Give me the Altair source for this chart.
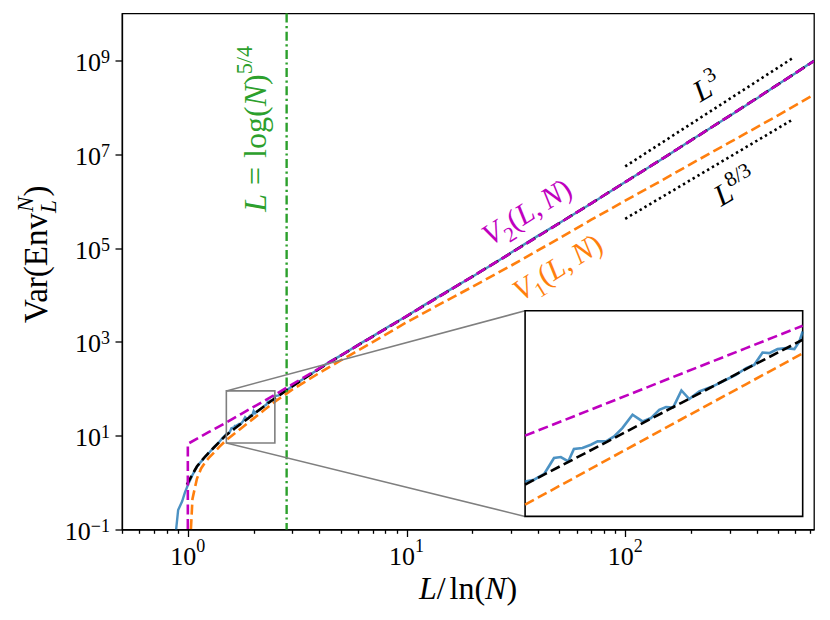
import math
import altair as alt
import pandas as pd

# ---------------- data ----------------
blue_x = [0.87, 0.884, 0.903, 0.942, 0.97, 1.01, 1.05, 1.103, 1.15, 1.205, 1.26, 1.32, 1.38, 1.44,
          1.5, 1.525, 1.554, 1.582, 1.602, 1.624, 1.641, 1.667, 1.693, 1.714, 1.741, 1.767, 1.794,
          1.828, 1.862, 1.891, 1.92, 1.944, 1.97, 2.0, 2.029, 2.067, 2.112, 2.145, 2.171, 2.211,
          2.253, 2.287, 2.322, 2.351, 2.387, 2.425, 2.462, 2.485, 2.5,
          2.6, 2.8, 3.0, 3.3, 3.6, 4.0, 4.5, 5.0, 6.0, 7.0, 8.5, 10, 12, 15, 20, 25, 30, 40, 50,
          70, 100, 150, 200, 300, 400, 500, 600, 730]
blue_y = [0.07, 0.1, 0.26, 0.4, 0.62, 0.98, 1.45, 2.2, 2.8, 3.6, 4.5, 5.8, 7.0, 8.9,
          10.81, 11.04, 11.89, 14.45, 14.64, 13.86, 16.16, 16.36, 17.05, 17.77, 17.77, 18.9, 20.97,
          24.74, 22.77, 23.75, 26.33, 27.22, 27.1, 33.45, 30.07, 33.04, 34.9, 36.67, 38.2, 40.6,
          44.2, 46.0, 53.6, 53.2, 55.9, 56.6, 55.9, 61.5, 69.6,
          72, 90, 113, 152, 197, 270, 388, 508, 862, 1310, 2290, 3500, 6000, 1.12e4, 2.45e4,
          4.62e4, 7.9e4, 1.84e5, 3.42e5, 8.9e5, 2.57e6, 8.3e6, 1.99e7, 6.5e7, 1.54e8, 3.1e8,
          5.3e8, 9.9e8]

fit_x = [0.99, 1.05, 1.1, 1.2, 1.3, 1.4, 1.5, 1.75, 2.0, 2.25, 2.5, 3, 4, 5, 7, 10, 15, 20, 30,
         50, 70, 100, 150, 200, 300, 500, 730]
fit_y = [0.9, 1.5, 2.2, 3.6, 5.27, 7.5, 10.4, 17.9, 28.7, 43.5, 62.8, 112, 268, 508, 1300, 3510,
         1.1e4, 2.47e4, 7.8e4, 3.39e5, 9.0e5, 2.55e6, 8.4e6, 1.97e7, 6.6e7, 3.08e8, 9.7e8]

v2_x = [1.0, 1.0, 1.25, 1.5, 1.75, 2.0, 2.25, 2.5, 3, 4, 5, 7, 10, 15, 20, 30, 50, 70, 100, 150,
        200, 300, 500, 730]
v2_y = [0.05, 6.7, 12.0, 19.1, 28.8, 41.2, 56.4, 74.7, 124, 275, 512, 1300, 3520, 1.1e4, 2.47e4,
        7.8e4, 3.39e5, 9.0e5, 2.55e6, 8.4e6, 1.97e7, 6.6e7, 3.08e8, 9.7e8]

v1_x = [1.025, 1.05, 1.1, 1.15, 1.2, 1.25, 1.3, 1.4, 1.5, 1.75, 2.0, 2.25, 2.5, 3, 4, 5, 7, 10,
        15, 20, 30, 50, 70, 100, 150, 200, 300, 500, 730]
v1_y = [0.05, 0.45, 1.2, 2.0, 2.7, 3.4, 4.1, 5.9, 8.1, 14.3, 23.4, 36.0, 53, 96, 218, 402, 986,
        2610, 7270, 1.49e4, 4.19e4, 1.62e5, 4.02e5, 1.02e6, 2.91e6, 6.23e6, 1.78e7, 6.74e7, 1.86e8]

l3_x = [100, 580]
l3_y = [5.5e6, 1.1e9]
l83_x = [100, 580]
l83_y = [4.2e5, 5.4e7]

green_x = [2.83]

x_tick_values = [0.5, 0.6, 0.7, 0.8, 0.9, 1, 2, 3, 4, 5, 6, 7, 8, 9, 10, 20, 30, 40, 50, 60, 70,
                 80, 90, 100, 200, 300, 400, 500, 600, 700]
x_label_values = [1, 10, 100]
x_label_exp = ["0", "1", "2"]
y_tick_values = [0.1, 10, 1e3, 1e5, 1e7, 1e9]
y_label_values = [10, 1e3, 1e5, 1e7, 1e9]
y_label_exp = ["1", "3", "5", "7", "9"]
y_label_neg_values = [0.1]
y_label_neg_exp = ["\u22121"]

# ---------------- layout ----------------
X_DOMAIN = [0.5, 730]
Y_DOMAIN = [0.1, 1e10]
W, H = 692, 516
ZOOM_X = [1.5, 2.5]
ZOOM_Y = [7.0, 90.0]
INSET_X = [34.85, 648.0]     # inset box in main-data units
INSET_Y = [0.19, 4600.0]

FONT = "Liberation Serif"
MAGENTA = "#bf00bf"
ORANGE = "#ff7f0e"
BLUE = "#1f77b4"
GREEN = "#2ca02c"
GRAY = "#7f7f7f"


def px_x(v):
    a, b = math.log10(X_DOMAIN[0]), math.log10(X_DOMAIN[1])
    return (math.log10(v) - a) / (b - a) * W


def px_y(v):
    a, b = math.log10(Y_DOMAIN[0]), math.log10(Y_DOMAIN[1])
    return (b - math.log10(v)) / (b - a) * H


xs = alt.Scale(type="log", domain=X_DOMAIN, nice=False)
ys = alt.Scale(type="log", domain=Y_DOMAIN, nice=False)
ixs = alt.Scale(type="log", domain=ZOOM_X, nice=False,
                range=[px_x(INSET_X[0]), px_x(INSET_X[1])])
iys = alt.Scale(type="log", domain=ZOOM_Y, nice=False,
                range=[px_y(INSET_Y[0]), px_y(INSET_Y[1])])

major = "datum.value == 1 || datum.value == 10 || datum.value == 100"
x_axis = alt.Axis(
    values=x_tick_values, labels=False,
    tickSize={"condition": {"test": major, "value": 7}, "value": 3.8},
    tickColor="black", tickWidth=1.3, domainColor="black", domainWidth=1.3,
    grid=False, title=None)
y_axis = alt.Axis(
    values=y_tick_values, labels=False, tickSize=7,
    tickColor="black", tickWidth=1.3, domainColor="black", domainWidth=1.3,
    grid=False, title=None)


def series(xv, yv):
    return pd.DataFrame({"x": xv, "y": yv, "i": list(range(len(xv)))})


def line(df, color, width, dash=None, opacity=1.0, inset=False):
    kw = dict(color=color, strokeWidth=width, opacity=opacity, clip=not inset)
    if dash:
        kw["strokeDash"] = dash
    ch = alt.Chart(df).mark_line(**kw)
    if inset:
        ch = ch.transform_filter("datum.x >= 1.4999 && datum.x <= 2.5001")
        return ch.encode(x=alt.X("x:Q", scale=ixs, axis=None, title=None),
                         y=alt.Y("y:Q", scale=iys, axis=None, title=None),
                         order="i:Q")
    return ch.encode(x=alt.X("x:Q", scale=xs, title=None),
                     y=alt.Y("y:Q", scale=ys, title=None),
                     order="i:Q")


# ---------------- text composition (Times metrics) ----------------
REG = {"V": 722, "a": 444, "r": 333, "(": 333, ")": 333, "E": 611, "n": 500, "v": 500,
       "l": 278, "/": 278, "=": 564, " ": 250, "\u2009": 200, "o": 500, "g": 500,
       ",": 250, "\u2212": 564}
ITA = {"L": 556, "N": 667, "V": 611}


def text_width(t, style):
    tab = ITA if style == "italic" else REG
    return sum(tab.get(c, REG.get(c, 500)) for c in t) / 1000.0


def layout(pieces, size):
    out, pos = [], 0.0
    for t, st, sc, rise, adv in pieces:
        fs = size * sc
        if t:
            out.append(dict(text=t, style=st, fs=fs, dx=pos, dy=rise * size))
        pos += adv * size if adv is not None else text_width(t, st) * fs
    for o in out:
        o["dx"] -= pos / 2.0
    return out


def text_piece(p, color, angle, align="left", data_xy=None, pix=None):
    src = pd.DataFrame({"x": [data_xy[0] if data_xy else 0], "y": [data_xy[1] if data_xy else 0]})
    mk = alt.Chart(src).mark_text(
        text=p["text"], align=align, baseline="alphabetic", font=FONT,
        fontSize=p["fs"], fontStyle=p["style"], color=color, angle=angle,
        dx=p["dx"], dy=p["dy"])
    if pix is not None:
        return mk.encode(x=alt.value(pix[0]), y=alt.value(pix[1]))
    return mk.encode(x=alt.X("x:Q", scale=xs, title=None),
                     y=alt.Y("y:Q", scale=ys, title=None))


def text_group(pieces, size, color, angle, data_xy=None, pix=None):
    return [text_piece(p, color, angle, data_xy=data_xy, pix=pix) for p in layout(pieces, size)]


N = "normal"
I = "italic"
SUP = -0.42
SUB = 0.24
GAP = ("", N, 1, 0, 0.28)     # a visible space, done as an advance

texts = []
# x-axis title  L/ln(N)
texts += text_group([("L", I, 1, 0, None), ("/", N, 1, 0, None), ("", N, 1, 0, 0.12),
                     ("ln(", N, 1, 0, None), ("N", I, 1, 0, None), (")", N, 1, 0, None)],
                    32, "black", 0, pix=(W / 2, 585))
# y-axis title  Var(Env_L^N): pivot at the end of "Var(Env"
YT = 33
YPIV = (-75.3, 199.5)
texts.append(text_piece(dict(text="Var(Env", style=N, fs=YT, dx=0, dy=0), "black", 270,
                        align="right", pix=YPIV))
texts.append(text_piece(dict(text="N", style=I, fs=YT * 0.7, dx=1, dy=SUP * YT), "black", 270,
                        pix=YPIV))
texts.append(text_piece(dict(text="L", style=I, fs=YT * 0.7, dx=0, dy=0.28 * YT), "black", 270,
                        pix=YPIV))
texts.append(text_piece(dict(text=")", style=N, fs=YT, dx=0.5 * YT, dy=0), "black", 270,
                        pix=YPIV))
# annotations
texts += text_group([("L", I, 1, 0, None), GAP, ("=", N, 1, 0, None), GAP, ("log(", N, 1, 0, None),
                     ("N", I, 1, 0, None), (")", N, 1, 0, None), ("5/4", N, 0.7, SUP, None)],
                    32, GREEN, 270, data_xy=(2.275, 3.5e7))
texts += text_group([("V", I, 1, 0, None), ("2", N, 0.7, SUB, None), ("(", N, 1, 0, None),
                     ("L", I, 1, 0, None), (",", N, 1, 0, None), ("", N, 1, 0, 0.2),
                     ("N", I, 1, 0, None), (")", N, 1, 0, None)],
                    30, MAGENTA, 328, data_xy=(37.5, 3.9e5))
texts += text_group([("V", I, 1, 0, None), ("1", N, 0.7, SUB, None), ("(", N, 1, 0, None),
                     ("L", I, 1, 0, None), (",", N, 1, 0, None), ("", N, 1, 0, 0.2),
                     ("N", I, 1, 0, None), (")", N, 1, 0, None)],
                    30, ORANGE, 328, data_xy=(51.8, 2.58e4))
texts += text_group([("L", I, 1, 0, None), ("3", N, 0.7, SUP, None)],
                    30, "black", 330, data_xy=(249.6, 1.76e8))
texts += text_group([("L", I, 1, 0, None), ("8/3", N, 0.7, SUP, None)],
                    30, "black", 330, data_xy=(335, 1.3e6))

# ---------------- tick labels (10 with a real superscript) ----------------
LF, SF = 26, 18
xl_df = pd.DataFrame({"x": x_label_values, "e": x_label_exp})
x_base = alt.Chart(xl_df).mark_text(text="10", align="left", baseline="alphabetic", font=FONT,
                                    fontSize=LF, color="black", dx=-(LF + SF * 0.5) / 2).encode(
    x=alt.X("x:Q", scale=xs, title=None), y=alt.value(H + 35))
x_sup = alt.Chart(xl_df).mark_text(align="left", baseline="alphabetic", font=FONT, fontSize=SF,
                                   color="black", dx=-(LF + SF * 0.5) / 2 + LF).encode(
    x=alt.X("x:Q", scale=xs, title=None), y=alt.value(H + 22), text="e:N")

yl_df = pd.DataFrame({"y": y_label_values, "e": y_label_exp})
yn_df = pd.DataFrame({"y": y_label_neg_values, "e": y_label_neg_exp})
y_base = alt.Chart(yl_df).mark_text(text="10", align="right", baseline="alphabetic", font=FONT,
                                    fontSize=LF, color="black", dy=10.5).encode(
    x=alt.value(-12 - SF * 0.5), y=alt.Y("y:Q", scale=ys, title=None))
y_base_neg = alt.Chart(yn_df).mark_text(text="10", align="right", baseline="alphabetic", font=FONT,
                                        fontSize=LF, color="black", dy=10.5).encode(
    x=alt.value(-12 - SF * 1.064), y=alt.Y("y:Q", scale=ys, title=None))
y_sup = alt.Chart(pd.concat([yl_df, yn_df])).mark_text(
    align="right", baseline="alphabetic", font=FONT, fontSize=SF, color="black", dy=2.5).encode(
    x=alt.value(-12), y=alt.Y("y:Q", scale=ys, title=None), text="e:N")

# ---------------- main layers ----------------
DASH = [10, 4.5]
blue_df = series(blue_x, blue_y)
fit_df = series(fit_x, fit_y)
v1_df = series(v1_x, v1_y)
v2_df = series(v2_x, v2_y)

axis_base = alt.Chart(blue_df).mark_line(color=BLUE, strokeWidth=2.4, opacity=0.8, clip=True).encode(
    x=alt.X("x:Q", scale=xs, axis=x_axis, title=None),
    y=alt.Y("y:Q", scale=ys, axis=y_axis, title=None),
    order="i:Q")

green_rule = alt.Chart(pd.DataFrame({"x": green_x})).mark_rule(
    color=GREEN, strokeWidth=2.4, strokeDash=[9, 3.5, 2.2, 3.5]).encode(
    x=alt.X("x:Q", scale=xs, title=None))

zoom_rect = alt.Chart(pd.DataFrame({"x0": [ZOOM_X[0]], "x1": [ZOOM_X[1]],
                                    "y0": [ZOOM_Y[0]], "y1": [ZOOM_Y[1]]})).mark_rect(
    fillOpacity=0, stroke=GRAY, strokeWidth=1.6).encode(
    x=alt.X("x0:Q", scale=xs, title=None), x2="x1:Q",
    y=alt.Y("y0:Q", scale=ys, title=None), y2="y1:Q")

connectors = alt.Chart(pd.DataFrame({
    "x0": [ZOOM_X[0], ZOOM_X[0]], "y0": [ZOOM_Y[1], ZOOM_Y[0]],
    "x1": [INSET_X[0], INSET_X[0]], "y1": [INSET_Y[1], INSET_Y[0]]})).mark_rule(
    color=GRAY, strokeWidth=1.6).encode(
    x=alt.X("x0:Q", scale=xs, title=None), x2="x1:Q",
    y=alt.Y("y0:Q", scale=ys, title=None), y2="y1:Q")

inset_box = alt.Chart(pd.DataFrame({"x0": [INSET_X[0]], "x1": [INSET_X[1]],
                                    "y0": [INSET_Y[0]], "y1": [INSET_Y[1]]})).mark_rect(
    fill="white", stroke="black", strokeWidth=1.6).encode(
    x=alt.X("x0:Q", scale=xs, title=None), x2="x1:Q",
    y=alt.Y("y0:Q", scale=ys, title=None), y2="y1:Q")

main = alt.layer(
    axis_base,
    line(fit_df, "black", 2.6, DASH),
    line(v1_df, ORANGE, 2.6, DASH),
    line(v2_df, MAGENTA, 2.6, DASH),
    green_rule,
    line(series(l3_x, l3_y), "black", 2.6, [2.4, 3.2]),
    line(series(l83_x, l83_y), "black", 2.6, [2.4, 3.2]),
    zoom_rect,
    connectors,
    inset_box,
    x_base, x_sup, y_base, y_base_neg, y_sup,
    *texts,
)

inset = alt.layer(
    line(blue_df, BLUE, 2.6, None, 0.8, inset=True),
    line(fit_df, "black", 2.6, DASH, inset=True),
    line(v1_df, ORANGE, 2.6, DASH, inset=True),
    line(v2_df, MAGENTA, 2.6, DASH, inset=True),
)

chart = alt.layer(main, inset).resolve_scale(x="independent", y="independent").properties(
    width=W, height=H,
    autosize=alt.AutoSizeParams(type="none"),
    padding={"left": 114, "top": 5.5, "right": 8, "bottom": 80},
).configure_view(stroke="black", strokeWidth=1.3)

chart.save("out.html", embed_options={"renderer": "svg", "actions": False})
